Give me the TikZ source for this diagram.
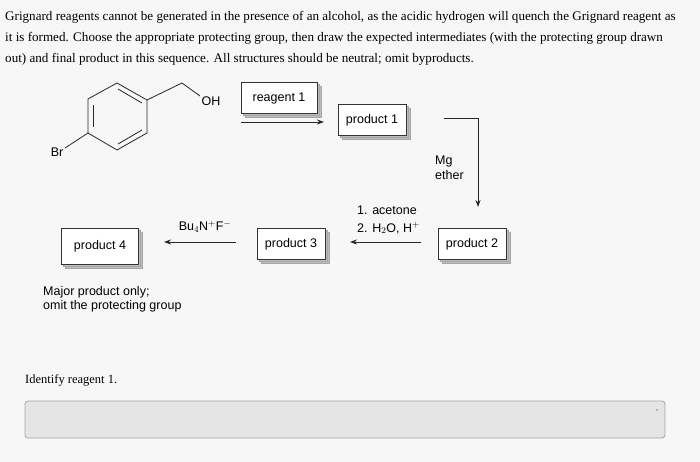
\documentclass[tikz,border=0pt]{standalone}
\usepackage{fontspec}
\setmainfont{Liberation Serif}
\setsansfont{Liberation Sans}
\usetikzlibrary{calc,shadows,arrows.meta}
\begin{document}
\begin{tikzpicture}[x=1pt,y=-1pt,
  lab/.style={font=\sffamily\fontsize{12.5}{14.5}\selectfont,inner sep=0pt},
  pbox/.style={draw=black!80,fill=white,font=\sffamily\fontsize{12.5}{14}\selectfont,minimum height=31pt,inner sep=0pt,
    double copy shadow={shadow xshift=2pt,shadow yshift=-2pt,draw=black!35,fill=black!25}},
  rarr/.style={-{Stealth[length=7pt,width=5pt]},line width=0.9pt,black!85},
  bond/.style={line width=0.8pt,black!85}]
\useasboundingbox (0,0) rectangle (700,462);
\fill[black!3] (0,0) rectangle (700,462);
\node[anchor=north west,align=left,font=\fontsize{13.1}{21}\selectfont,inner sep=0pt] (q) at (5,11)
 {Grignard reagents cannot be generated in the presence of an alcohol, as the acidic hydrogen will quench the Grignard reagent as\\
 it is formed. Choose the appropriate protecting group, then draw the expected intermediates (with the protecting group drawn\\
 out) and final product in this sequence. All structures should be neutral; omit byproducts.};
% molecule
\coordinate (a1) at (117,83); \coordinate (a2) at (147,100); \coordinate (a3) at (147,133);
\coordinate (a4) at (117,150); \coordinate (a5) at (88,133); \coordinate (a6) at (88,99);
\draw[bond] (a1)--(a2)--(a3)--(a4)--(a5)--(a6)--cycle;
\draw[bond] (118,89) -- (142,103);
\draw[bond] (93,105) -- (93,127);
\draw[bond] (118,144) -- (142,130);
\draw[bond] (a2)--(182,83)--(200,96);
\node[lab] (oh) at (211,101) {OH};
\draw[bond] (a5)--(65,148);
\node[lab] (br) at (57,152) {Br};
% reagent 1
\node[pbox,minimum width=76pt] (r1) at (279,98) {reagent 1};
\coordinate (s1) at (241,122); \coordinate (e1) at (324,122);
\draw[rarr] (s1)--(e1);
\node[pbox,minimum width=68pt] (p1) at (372,120) {product 1};
\coordinate (b1) at (444,118); \coordinate (b2) at (478,118); \coordinate (b3) at (478,207);
\draw[rarr] (b1)--(b2)--(b3);
\node[lab,align=left,anchor=west] (mg) at (435,168) {Mg\\ether};
\node[pbox,minimum width=68pt] (p2) at (472,244) {product 2};
\coordinate (s2) at (421,242); \coordinate (e2) at (350,242);
\draw[rarr] (s2)--(e2);
\node[lab,align=left,anchor=west] (ac) at (357,220) {1. acetone\\[3pt]2. H$_2$O, H$^+$};
\node[pbox,minimum width=68pt] (p3) at (291,244) {product 3};
\coordinate (s3) at (236,242); \coordinate (e3) at (164,242);
\draw[rarr] (s3)--(e3);
\node[lab] (bu) at (205,227) {Bu$_4$N$^+$F$^-$};
\node[pbox,minimum width=77pt,minimum height=36pt] (p4) at (100,246) {product 4};
\node[lab,align=left,anchor=north west] (mj) at (43,286) {Major product only;\\omit the protecting group};
\node[anchor=west,font=\fontsize{12.5}{14}\selectfont,inner sep=0pt] (id) at (25,380) {Identify reagent 1.};
\draw[rounded corners=3pt,draw=black!35,fill=black!10,line width=0.8pt] (25,401) rectangle (665,438);
\fill[black!50] (657,410) circle (0.8pt);
\end{tikzpicture}
\end{document}
